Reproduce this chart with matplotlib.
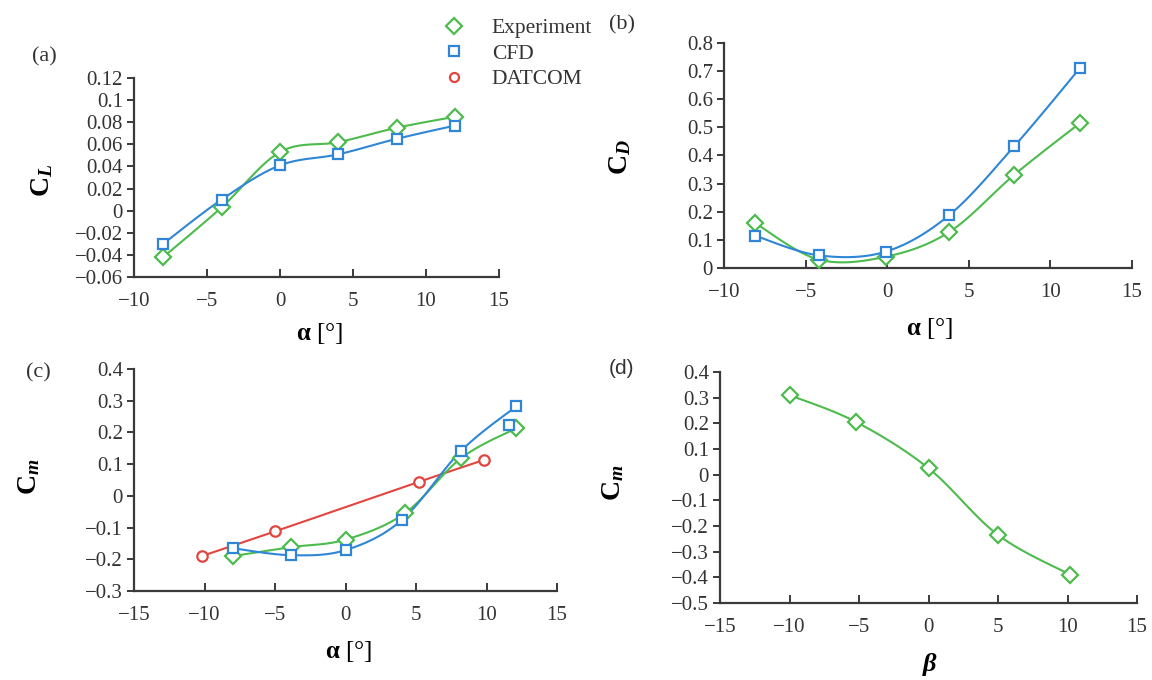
import matplotlib
matplotlib.use('Agg')
import matplotlib.pyplot as plt
from matplotlib.lines import Line2D
from matplotlib.ticker import FuncFormatter
import numpy as np

plt.rcParams['font.family'] = ['Liberation Serif', 'DejaVu Serif']
plt.rcParams['mathtext.fontset'] = 'custom'
plt.rcParams['mathtext.rm'] = 'Liberation Serif'
plt.rcParams['mathtext.it'] = 'Liberation Serif:italic'
plt.rcParams['mathtext.bf'] = 'Liberation Serif:bold'
plt.rcParams['mathtext.bfit'] = 'Liberation Serif:italic:bold'

# Cores
verde = '#4dbb4d'
azul = '#2f86d6'
vermelho = '#e2453f'
eixo = '#3a3a3a'

# (a) C_L x alpha
a_alpha = [-8, -4, 0, 4, 8, 12]
a_exp = [-0.042, 0.003, 0.053, 0.062, 0.075, 0.085]
a_cfd = [-0.030, 0.010, 0.041, 0.051, 0.065, 0.077]

# (b) C_D x alpha
b_alpha = [-8.1, -4.2, -0.1, 3.8, 7.8, 11.8]
b_exp = [0.160, 0.030, 0.040, 0.128, 0.332, 0.515]
b_cfd = [0.115, 0.045, 0.058, 0.188, 0.434, 0.710]

# (c) C_m x alpha
c_alpha_exp = [-8, -3.9, 0, 4.2, 8.2, 12.1]
c_exp = [-0.190, -0.162, -0.138, -0.055, 0.119, 0.213]
c_alpha_cfd = [-8, -3.9, 0, 4.0, 8.2, 12.1]
c_cfd = [-0.165, -0.187, -0.171, -0.076, 0.142, 0.282]
c_alpha_cfd_extra = [11.6]
c_cfd_extra = [0.225]
c_alpha_dat = [-10.2, -5, 5.2, 9.8]
c_dat = [-0.190, -0.112, 0.044, 0.113]

# (d) C_m x beta
d_beta = [-10, -5.2, 0, 5, 10.2]
d_exp = [0.310, 0.205, 0.025, -0.235, -0.390]


def suavizar(x, y, n=25):
    # linha suave tipo Excel (Bezier / Catmull-Rom)
    pts = np.column_stack([x, y]).astype(float)
    out = [pts[0]]
    t = np.linspace(0, 1, n)[1:, None]
    for i in range(len(pts) - 1):
        p0 = pts[i - 1] if i > 0 else pts[i]
        p1 = pts[i]
        p2 = pts[i + 1]
        p3 = pts[i + 2] if i + 2 < len(pts) else pts[i + 1]
        c1 = p1 + (p2 - p0) / 6
        c2 = p2 - (p3 - p1) / 6
        seg = (1 - t) ** 3 * p1 + 3 * (1 - t) ** 2 * t * c1 + 3 * (1 - t) * t ** 2 * c2 + t ** 3 * p2
        out.extend(seg)
    out = np.array(out)
    return out[:, 0], out[:, 1]


def serie(ax, x, y, cor, marcador, ms, linha=True):
    if linha:
        xs, ys = suavizar(x, y)
        ax.plot(xs, ys, color=cor, linewidth=1.5, zorder=2)
    ax.plot(x, y, linestyle='none', marker=marcador, markersize=ms,
            markerfacecolor='white', markeredgecolor=cor, markeredgewidth=1.6, zorder=3)


def formato(v, pos):
    v = round(v, 6)
    if v == 0:
        return '0'
    return ('%g' % v).replace('-', '\u2212')


def estilo(ax, xlim, xt, ylim, yt):
    ax.set_xlim(*xlim)
    ax.set_ylim(*ylim)
    ax.set_xticks(xt)
    ax.set_yticks(yt)
    ax.yaxis.set_major_formatter(FuncFormatter(formato))
    ax.xaxis.set_major_formatter(FuncFormatter(formato))
    for lado in ['top', 'right']:
        ax.spines[lado].set_visible(False)
    for lado in ['left', 'bottom']:
        ax.spines[lado].set_color(eixo)
        ax.spines[lado].set_linewidth(1.6)
    ax.tick_params(axis='y', direction='out', length=5, width=1.4, color=eixo,
                   labelsize=15, pad=3, labelcolor='#333333')
    ax.tick_params(axis='x', direction='in', length=6, width=1.4, color=eixo,
                   labelsize=15, pad=11, labelcolor='#333333')
    ax.patch.set_alpha(0)


W, H = 1152, 680
fig = plt.figure(figsize=(W / 100, H / 100), dpi=100)


def eixos(x0, y0, x1, y1):
    return fig.add_axes([x0 / W, 1 - y1 / H, (x1 - x0) / W, (y1 - y0) / H])


def txt(x, y, s, **kw):
    fig.text(x / W, 1 - y / H, s, ha='center', va='center', **kw)


# (a)
ax_a = eixos(134, 78, 499, 277)
serie(ax_a, a_alpha, a_exp, verde, 'D', 8.5)
serie(ax_a, a_alpha, a_cfd, azul, 's', 7.5)
estilo(ax_a, (-10, 15), np.arange(-10, 16, 5), (-0.06, 0.12), np.arange(-0.06, 0.121, 0.02))

# (b)
ax_b = eixos(724, 43, 1132, 268)
serie(ax_b, b_alpha, b_exp, verde, 'D', 8.5)
serie(ax_b, b_alpha, b_cfd, azul, 's', 7.5)
estilo(ax_b, (-10, 15), np.arange(-10, 16, 5), (0, 0.8), np.arange(0, 0.81, 0.1))

# (c)
ax_c = eixos(134, 369, 557, 591)
serie(ax_c, c_alpha_dat, c_dat, vermelho, 'o', 7.5)
serie(ax_c, c_alpha_exp, c_exp, verde, 'D', 8.5)
serie(ax_c, c_alpha_cfd, c_cfd, azul, 's', 7.5)
serie(ax_c, c_alpha_cfd_extra, c_cfd_extra, azul, 's', 7.5, linha=False)
estilo(ax_c, (-15, 15), np.arange(-15, 16, 5), (-0.3, 0.4), np.arange(-0.3, 0.41, 0.1))

# (d)
ax_d = eixos(720, 372, 1137, 603)
serie(ax_d, d_beta, d_exp, verde, 'D', 8.5)
estilo(ax_d, (-15, 15), np.arange(-15, 16, 5), (-0.5, 0.4), np.arange(-0.5, 0.41, 0.1))

# rótulos dos eixos
rot = dict(fontsize=20, rotation=90)
txt(42, 180, r'$\mathbf{C}_{\mathbfit{L}}$', **rot)
txt(620, 157, r'$\mathbf{C}_{\mathbfit{D}}$', **rot)
txt(29, 477, r'$\mathbf{C}_{\mathbfit{m}}$', **rot)
txt(613, 483, r'$\mathbf{C}_{\mathbfit{m}}$', **rot)

txt(320, 333, r'$\mathbf{α}$ [°]', fontsize=18)
txt(930, 328, r'$\mathbf{α}$ [°]', fontsize=18)
txt(349, 652, r'$\mathbf{α}$ [°]', fontsize=18)
txt(930, 664, r'$\mathbfit{β}$', fontsize=19)

# letras dos painéis
txt(44, 57, '(a)', fontsize=16, color='#333333')
txt(622, 25, '(b)', fontsize=16, color='#333333')
txt(38, 373, '(c)', fontsize=16, color='#333333')
txt(622, 369, '(d)', fontsize=15, color='#333333', family=['Liberation Sans', 'DejaVu Sans'])

# legenda
leg = [
    Line2D([], [], linestyle='none', marker='D', markersize=8, markerfacecolor='white',
           markeredgecolor=verde, markeredgewidth=1.6, label='Experiment'),
    Line2D([], [], linestyle='none', marker='s', markersize=7, markerfacecolor='white',
           markeredgecolor=azul, markeredgewidth=1.6, label='CFD'),
    Line2D([], [], linestyle='none', marker='o', markersize=6.5, markerfacecolor='white',
           markeredgecolor=vermelho, markeredgewidth=1.6, label='DATCOM'),
]
fig.legend(handles=leg, loc='upper left', bbox_to_anchor=(423 / W, 1 - 3 / H), frameon=False,
           fontsize=15.5, handletextpad=1.0, labelspacing=0.25, handlelength=1.5,
           labelcolor='#333333', borderpad=0.2)

fig.savefig('out.png', dpi=100, facecolor='white')
